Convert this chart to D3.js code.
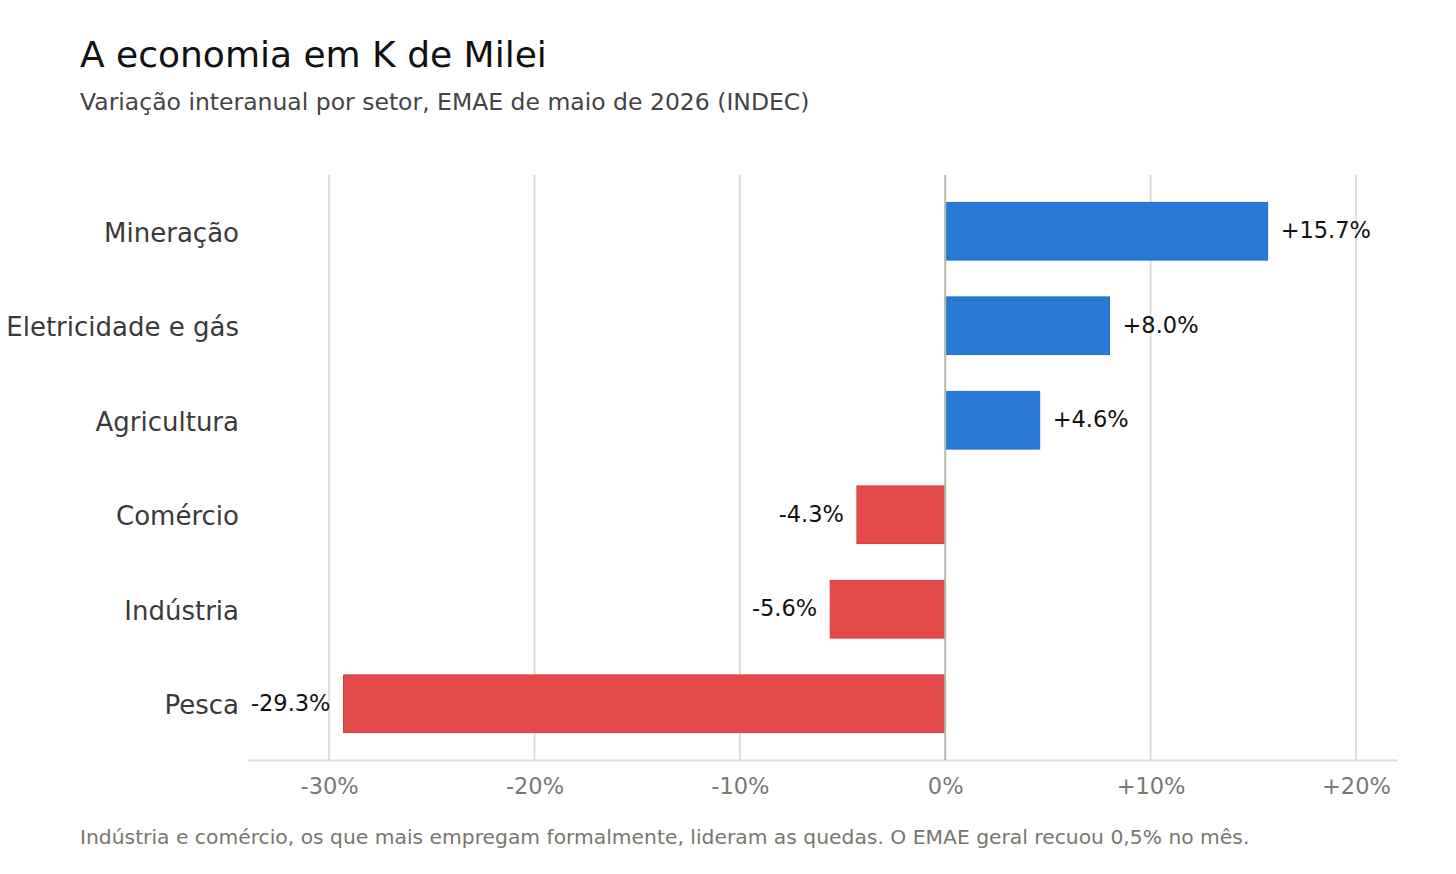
<!DOCTYPE html>
<html>
<head>
<meta charset="utf-8">
<style>
  body { margin: 0; background: #fff; }
  svg { display: block; font-family: "DejaVu Sans", sans-serif; }
</style>
</head>
<body>
<svg width="1456" height="874"></svg>
<script src="https://d3js.org/d3.v7.min.js"></script>
<script>
// dados
var setores = ['Mineração', 'Eletricidade e gás', 'Agricultura', 'Comércio', 'Indústria', 'Pesca'];
var variacao = [15.7, 8.0, 4.6, -4.3, -5.6, -29.3];
var ticks = [-30, -20, -10, 0, 10, 20];

var svg = d3.select('svg');
var margin = { left: 247, right: 59, top: 175, bottom: 114 };
var width = +svg.attr('width') - margin.left - margin.right;
var height = +svg.attr('height') - margin.top - margin.bottom;

var data = setores.map(function (s, i) { return { setor: s, v: variacao[i] }; });

svg.append('text')
  .attr('x', 80).attr('y', 67)
  .attr('font-size', 36).attr('fill', '#111')
  .text('A economia em K de Milei');
svg.append('text')
  .attr('x', 80).attr('y', 110)
  .attr('font-size', 23.5).attr('fill', '#444')
  .text('Variação interanual por setor, EMAE de maio de 2026 (INDEC)');

var g = svg.append('g')
  .attr('transform', `translate(${margin.left}, ${margin.top})`);

var x = d3.scaleLinear().domain([-34, 22]).range([0, width]);
var y = d3.scaleBand().domain(setores).range([9, height - 9])
  .paddingInner(0.39).paddingOuter(0.195);

// grade vertical
g.selectAll('.grid').data(ticks.filter(function (t) { return t !== 0; }))
  .enter().append('line')
  .attr('x1', function (d) { return x(d); }).attr('x2', function (d) { return x(d); })
  .attr('y1', 0).attr('y2', height)
  .attr('stroke', '#deded6').attr('stroke-width', 2);

// eixo x
var xAxis = g.append('g')
  .attr('transform', `translate(0, ${height})`)
  .call(d3.axisBottom(x).tickValues(ticks).tickSize(0).tickPadding(18)
    .tickFormat(function (d) { return (d > 0 ? '+' : '') + d + '%'; }));
xAxis.select('.domain').attr('stroke', '#deded6').attr('stroke-width', 2);
xAxis.selectAll('text').attr('font-size', 22.5).attr('fill', '#7a7a72')
  .attr('font-family', '"DejaVu Sans", sans-serif');

// barras
g.selectAll('.bar').data(data).enter().append('rect')
  .attr('x', function (d) { return x(Math.min(0, d.v)); })
  .attr('y', function (d) { return y(d.setor); })
  .attr('width', function (d) { return Math.abs(x(d.v) - x(0)); })
  .attr('height', y.bandwidth())
  .attr('fill', function (d) { return d.v >= 0 ? '#2979d6' : '#e34a4a'; })
  .attr('stroke', function (d) { return d.v >= 0 ? '#1f6fd0' : '#dc3a3a'; })
  .attr('stroke-width', 1);

// linha do zero
g.append('line')
  .attr('x1', x(0)).attr('x2', x(0))
  .attr('y1', 0).attr('y2', height)
  .attr('stroke', '#b8b8ac').attr('stroke-width', 2);

// rótulos de valor
g.selectAll('.val').data(data).enter().append('text')
  .attr('x', function (d) { return d.v >= 0 ? x(d.v) + 13 : x(d.v) - 13; })
  .attr('y', function (d) { return y(d.setor) + y.bandwidth() / 2; })
  .attr('dy', '0.3em')
  .attr('text-anchor', function (d) { return d.v >= 0 ? 'start' : 'end'; })
  .attr('font-size', 22.5).attr('fill', '#111')
  .text(function (d) { return (d.v > 0 ? '+' : '') + d.v.toFixed(1) + '%'; });

// rótulos dos setores
g.selectAll('.cat').data(data).enter().append('text')
  .attr('x', -8)
  .attr('y', function (d) { return y(d.setor) + y.bandwidth() / 2; })
  .attr('dy', '0.4em')
  .attr('text-anchor', 'end')
  .attr('font-size', 26).attr('fill', '#3a3a3a')
  .text(function (d) { return d.setor; });

svg.append('text')
  .attr('x', 80).attr('y', 844)
  .attr('font-size', 20.3).attr('fill', '#77776e')
  .text('Indústria e comércio, os que mais empregam formalmente, lideram as quedas. O EMAE geral recuou 0,5% no mês.');
</script>
</body>
</html>
